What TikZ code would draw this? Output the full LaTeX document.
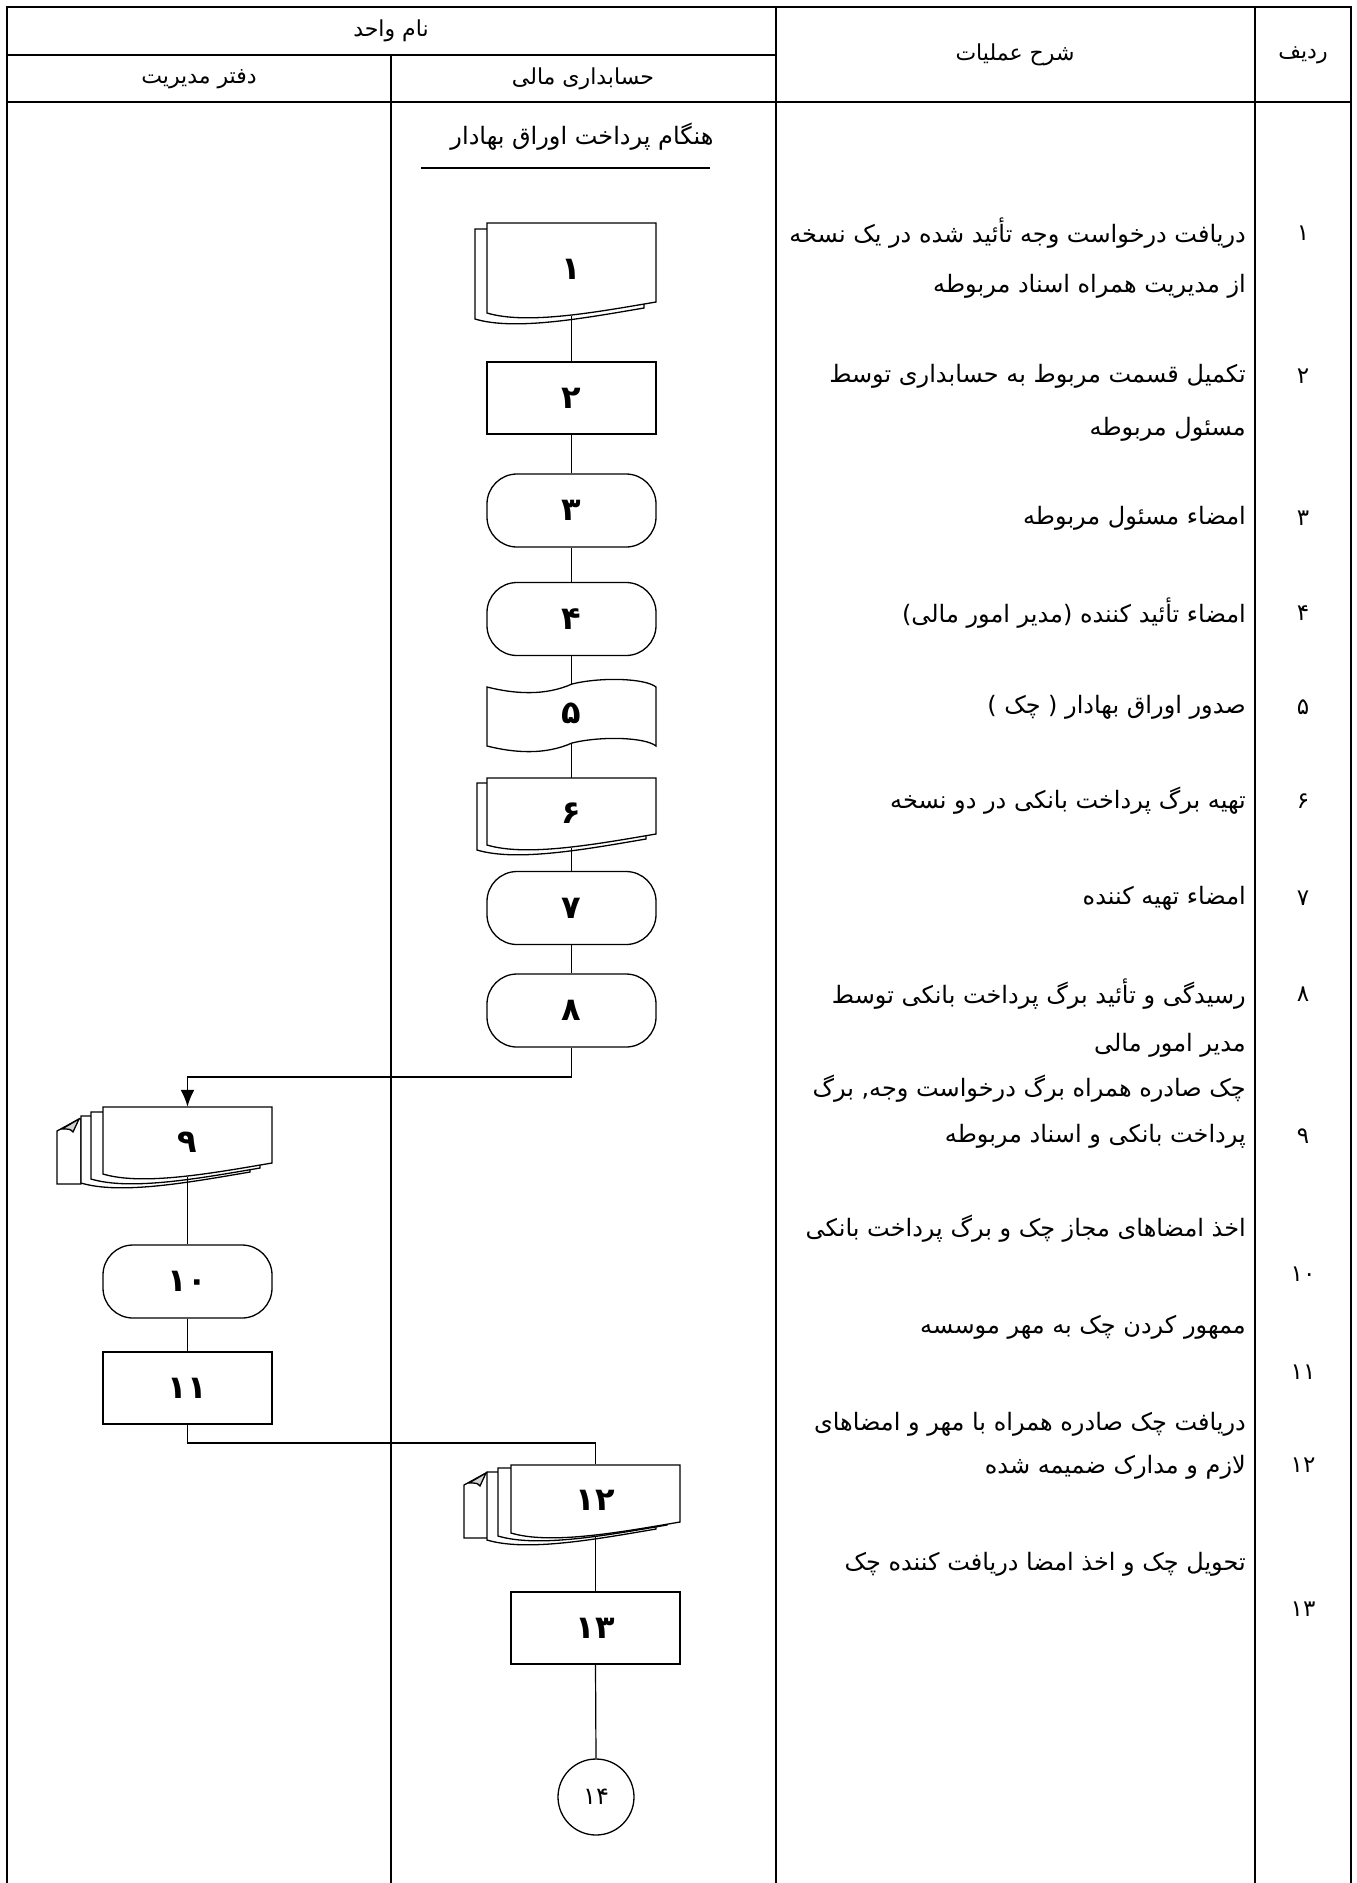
\documentclass[tikz,border=0pt]{standalone}
\usepackage{fontspec}
\usetikzlibrary{arrows.meta}
\newfontfamily\arabicfont[Script=Arabic]{DejaVu Sans}
\TeXXeTstate=1

% one sheet of a document symbol: top-left x, top y, depth at left
\newcommand{\docsheet}[3]{%
  \begin{scope}[shift={(#1,#2)}]
    \filldraw[fill=white] (0,0) -- (169,0) -- (169,#3-11)
      .. controls (110,#3-1) and (40,#3+12) .. (0,#3) -- cycle;
  \end{scope}}
% folded last sheet of a stack: left x, top y
\newcommand{\foldsheet}[2]{%
  \begin{scope}[shift={(#1,#2)}]
    \filldraw[fill=white] (24,0) -- (24,65) -- (0,65) -- (0,12) -- (22,0) -- cycle;
    \filldraw[fill=gray!35] (5,10) -- (22,0) -- (16,13) .. controls (13,10) .. cycle;
  \end{scope}}

\begin{document}
\begin{tikzpicture}[>={Latex[length=17pt,width=14pt]}, x=1pt, y=-1pt,
    grid/.style={line width=2pt},
    link/.style={line width=1.2pt},
    proc/.style={draw, line width=1.3pt, minimum width=169pt, minimum height=72pt,
      inner sep=0pt, font=\arabicfont\bfseries\fontsize{32}{32}\selectfont},
    term/.style={proc, rounded corners=30pt, minimum height=73pt},
    doc/.style={minimum width=169pt, inner sep=0pt,
      font=\arabicfont\bfseries\fontsize{32}{32}\selectfont},
    head/.style={inner sep=0pt, font=\arabicfont\fontsize{22}{26}\selectfont},
    desc/.style={anchor=east, inner sep=0pt, font=\arabicfont\fontsize{24}{28}\selectfont},
    rowno/.style={inner sep=0pt, font=\arabicfont\fontsize{23}{26}\selectfont}]
    \useasboundingbox (0,0) rectangle (1357,1883);

    % 1. Table frame and header
    \draw[grid, line join=miter] (7,1883) -- (7,7) -- (1351,7) -- (1351,1883);
    \draw[grid] (7,55) -- (776,55);
    \draw[grid] (7,102) -- (1351,102);
    \draw[grid] (391,55) -- (391,1883);
    \draw[grid] (776,7) -- (776,1883);
    \draw[grid] (1255,7) -- (1255,1883);

    \node[head] (unit) at (391,31) {\beginR نام واحد\endR};
    \node[head] (office) at (199,79) {\beginR دفتر مدیریت\endR};
    \node[head] (acct) at (583,79) {\beginR حسابداری مالی\endR};
    \node[head] (ops) at (1015,55) {\beginR شرح عملیات\endR};
    \node[head] (rowhead) at (1303,55) {\beginR ردیف\endR};

    % Title of the procedure with its underline
    \node[head, font=\arabicfont\fontsize{24}{28}\selectfont] (start) at (582,137)
      {\beginR هنگام پرداخت اوراق بهادار\endR};
    \draw[grid] (421,168) -- (710,168);

    % 2. Flow in the accounting column (steps 1 to 8)
    \begin{scope}[line width=1.3pt]
      \docsheet{475}{229}{90}
      \docsheet{487}{223}{90}
    \end{scope}
    \node[doc, minimum height=93pt] (doc1) at (571.5,269.5) {۱};
    \node[proc] (box2) at (571.5,398) {۲};
    \node[term] (box3) at (571.5,510.5) {۳};
    \node[term] (box4) at (571.5,619) {۴};

    % punched tape for the cheque
    \filldraw[line width=1.3pt, fill=white] (487,687)
      .. controls (515,694) and (545,696) .. (572,684)
      .. controls (600,677) and (645,678) .. (656,687) -- (656,746)
      .. controls (645,737) and (600,736) .. (572,743)
      .. controls (545,755) and (515,753) .. (487,746) -- cycle;
    \node[doc, minimum height=59pt] (tape5) at (571.5,713.5) {۵};

    \begin{scope}[line width=1.3pt]
      \docsheet{477}{783}{67}
      \docsheet{487}{778}{67}
    \end{scope}
    \node[doc, minimum height=70pt] (doc6) at (571.5,813) {۶};
    \node[term] (box7) at (571.5,908) {۷};
    \node[term] (box8) at (571.5,1010.5) {۸};

    % 3. Management office column (steps 9 to 11)
    \begin{scope}[line width=1.3pt]
      \foldsheet{57}{1119}
      \docsheet{81}{1116}{67}
      \docsheet{91}{1112}{67}
      \docsheet{103}{1107}{67}
    \end{scope}
    \node[doc, minimum height=70pt] (doc9) at (187.5,1142) {۹};
    \node[term] (box10) at (187.5,1281.5) {۱۰};
    \node[proc] (box11) at (187.5,1388) {۱۱};

    % 4. Back to accounting (steps 12 to 14)
    \begin{scope}[line width=1.3pt]
      \foldsheet{464}{1473}
      \docsheet{487}{1472}{68}
      \docsheet{498}{1468}{68}
      \docsheet{511}{1465}{68}
    \end{scope}
    \node[doc, minimum height=71pt] (doc12) at (595.5,1500) {۱۲};
    \node[proc] (box13) at (595.5,1628) {۱۳};
    \node[draw, circle, line width=1.3pt, minimum size=76pt, inner sep=0pt,
      font=\arabicfont\fontsize{24}{24}\selectfont] (end14) at (596,1797) {۱۴};

    % 5. Connectors
    \draw[link] (doc1.south) -- (box2.north);
    \draw[link] (box2.south) -- (box3.north);
    \draw[link] (box3.south) -- (box4.north);
    \draw[link] (box4.south) -- (tape5.north);
    \draw[link] (tape5.south) -- (doc6.north);
    \draw[link] (doc6.south) -- (box7.north);
    \draw[link] (box7.south) -- (box8.north);
    \coordinate (turn8) at (571.5,1077);
    \draw[line width=1.8pt, ->] (box8.south) -- (turn8) -| (doc9.north);
    \draw[link] (doc9.south) -- (box10.north);
    \draw[link] (box10.south) -- (box11.north);
    \coordinate (turn11) at (187.5,1443);
    \draw[link] (box11.south) -- (turn11) -| (doc12.north);
    \draw[link] (doc12.south) -- (box13.north);
    \draw[link] (box13.south) -- (end14.north);

    % 6. Description of operations
    \node[desc] (d1a) at (1246,233) {\beginR دریافت درخواست وجه تأئید شده در یک نسخه\endR};
    \node[desc] (d1b) at (1246,286) {\beginR از مدیریت همراه اسناد مربوطه\endR};
    \node[desc] (d2a) at (1246,376) {\beginR تکمیل قسمت مربوط به حسابداری توسط\endR};
    \node[desc] (d2b) at (1246,429) {\beginR مسئول مربوطه\endR};
    \node[desc] (d3) at (1246,518) {\beginR امضاء مسئول مربوطه\endR};
    \node[desc] (d4) at (1246,613) {\beginR امضاء تأئید کننده (مدیر امور مالی)\endR};
    \node[desc] (d5) at (1246,707) {\beginR صدور اوراق بهادار ( چک )\endR};
    \node[desc] (d6) at (1246,801) {\beginR تهیه برگ پرداخت بانکی در دو نسخه\endR};
    \node[desc] (d7) at (1246,898) {\beginR امضاء تهیه کننده\endR};
    \node[desc] (d8a) at (1246,994) {\beginR رسیدگی و تأئید برگ پرداخت بانکی توسط\endR};
    \node[desc] (d8b) at (1246,1045) {\beginR مدیر امور مالی\endR};
    \node[desc] (d9a) at (1246,1089) {\beginR چک صادره همراه برگ درخواست وجه, برگ\endR};
    \node[desc] (d9b) at (1246,1136) {\beginR پرداخت بانکی و اسناد مربوطه\endR};
    \node[desc] (d10) at (1246,1229) {\beginR اخذ امضاهای مجاز چک و برگ پرداخت بانکی\endR};
    \node[desc] (d11) at (1246,1327) {\beginR ممهور کردن چک به مهر موسسه\endR};
    \node[desc] (d12a) at (1246,1424) {\beginR دریافت چک صادره همراه با مهر و امضاهای\endR};
    \node[desc] (d12b) at (1246,1467) {\beginR لازم و مدارک ضمیمه شده\endR};
    \node[desc] (d13) at (1246,1564) {\beginR تحویل چک و اخذ امضا دریافت کننده چک\endR};

    % Row numbers
    \foreach \i/\n/\y in {1/۱/233, 2/۲/376, 3/۳/518, 4/۴/613, 5/۵/707, 6/۶/801,
        7/۷/898, 8/۸/994, 9/۹/1136, 10/۱۰/1274, 11/۱۱/1372, 12/۱۲/1465, 13/۱۳/1609}
      \node[rowno] (row\i) at (1303,\y) {\n};
\end{tikzpicture}
\end{document}
